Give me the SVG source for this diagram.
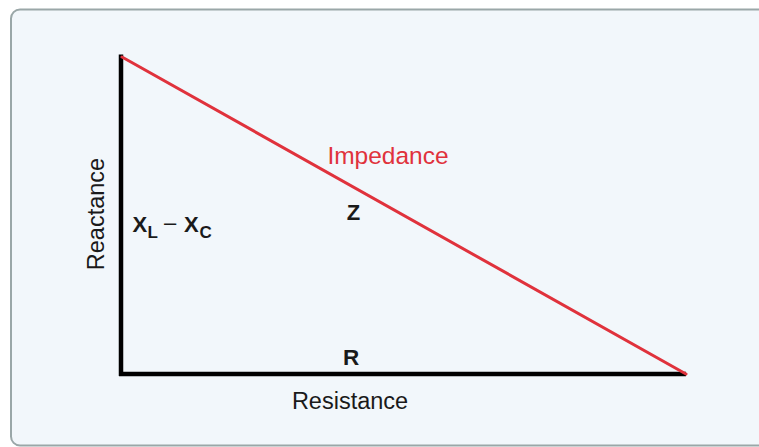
<svg xmlns="http://www.w3.org/2000/svg" width="759" height="447" viewBox="0 0 759 447">
  <style>
    .lbl { font-family: "Liberation Sans", Arial, Helvetica, sans-serif; fill: #1a1a1a; }
    .axis { stroke: #000000; stroke-width: 4.5; fill: none; }
    .hyp { stroke: #e0323c; stroke-width: 3; stroke-linecap: round; fill: none; }
    .bold { font-weight: bold; }
  </style>
  <rect id="background" x="11" y="9.5" width="770" height="436" rx="9" ry="9" fill="#f2f7fb" stroke="#9aa7a8" stroke-width="2"/>
  <g id="connectors">
    <line class="axis" x1="121" y1="54.5" x2="121" y2="376"/>
    <line class="axis" x1="119" y1="374" x2="686" y2="374"/>
    <line class="hyp" x1="122" y1="57" x2="686" y2="374"/>
  </g>
  <g id="label-impedance">
    <text class="lbl" x="388" y="164" font-size="24.5" text-anchor="middle" style="fill:#e0323c">Impedance</text>
  </g>
  <g id="label-z">
    <text class="lbl bold" x="353.5" y="219.5" font-size="22" text-anchor="middle">Z</text>
  </g>
  <g id="label-xl-xc">
    <text class="lbl bold" y="232" font-size="22"><tspan x="132.5">X</tspan><tspan x="147.5" y="238" font-size="17">L</tspan><tspan x="164" y="230" font-weight="normal">–</tspan><tspan x="184" y="232">X</tspan><tspan x="199.5" y="238" font-size="17">C</tspan></text>
  </g>
  <g id="label-r">
    <text class="lbl bold" x="351" y="364.5" font-size="22.5" text-anchor="middle">R</text>
  </g>
  <g id="label-resistance">
    <text class="lbl" x="350" y="409" font-size="23.5" text-anchor="middle">Resistance</text>
  </g>
  <g id="label-reactance">
    <text class="lbl" x="0" y="0" font-size="23.5" text-anchor="middle" transform="translate(104,214) rotate(-90)">Reactance</text>
  </g>
</svg>
